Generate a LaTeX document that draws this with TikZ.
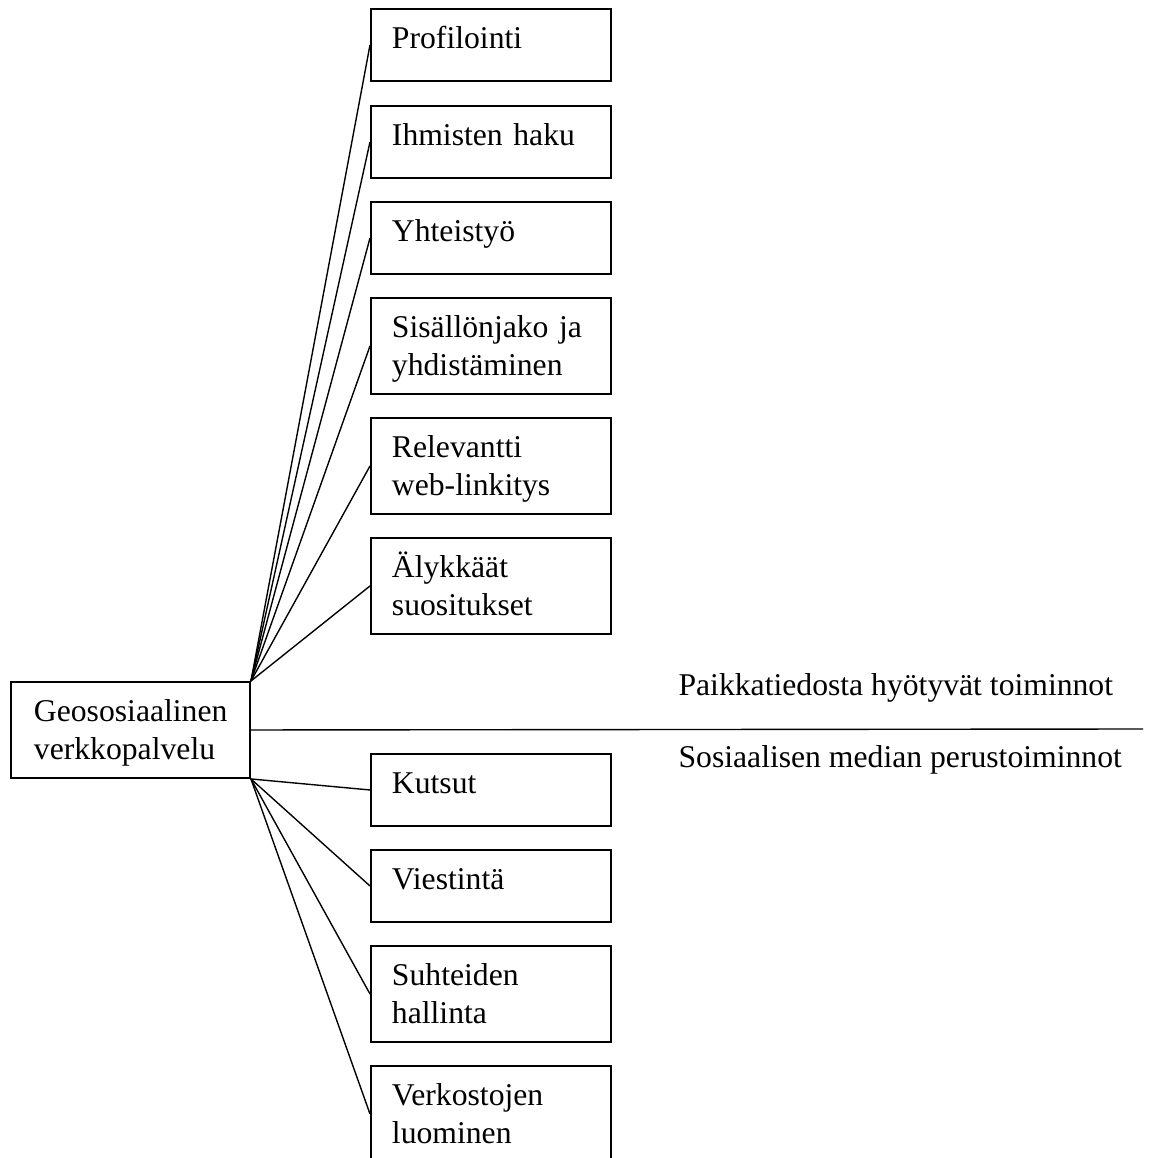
\documentclass[tikz,border=0pt]{standalone}
\usepackage{fontspec}
\setmainfont{Liberation Serif}
\begin{document}
\begin{tikzpicture}[x=0.36pt,y=-0.36pt,font=\fontsize{11.4}{13.68}\selectfont,
    box/.style={draw,line width=.7pt,anchor=north west,text width=71.28pt,align=left,
      inner xsep=7.56pt,inner ysep=0pt,text height=14.4pt,text depth=11.52pt},
    tallbox/.style={box,text depth=20.16pt},
    link/.style={line width=.5pt}]
  \useasboundingbox (0,0) rectangle (1149,1158);

  \node[tallbox,text width=69.48pt,inner xsep=8.28pt] (palvelu) at (10,681) {Geososiaalinen\\verkkopalvelu};

  \node[box] (profilointi) at (370,8) {Profilointi};
  \node[box] (haku) at (370,105) {Ihmisten haku};
  \node[box] (yhteistyo) at (370,201) {Yhteistyö};
  \node[tallbox] (jako) at (370,297) {\mbox{Sisällönjako ja}\\yhdistäminen};
  \node[tallbox] (linkitys) at (370,417) {Relevantti\\web-linkitys};
  \node[tallbox] (suositukset) at (370,537) {Älykkäät\\suositukset};

  \node[box] (kutsut) at (370,753) {Kutsut};
  \node[box] (viestinta) at (370,849) {Viestintä};
  \node[tallbox] (suhteet) at (370,945) {Suhteiden\\hallinta};
  \node[tallbox] (verkostot) at (370,1065) {Verkostojen\\luominen};

  \node[anchor=base west,inner sep=0pt] (paikka) at (678,695) {Paikkatiedosta hyötyvät toiminnot};
  \node[anchor=base west,inner sep=0pt] (perus) at (678,767) {Sosiaalisen median perustoiminnot};
  \coordinate (raja) at (1143,729);

  \draw[link] (palvelu.north east) -- (profilointi.west);
  \draw[link] (palvelu.north east) -- (haku.west);
  \draw[link] (palvelu.north east) -- (yhteistyo.west);
  \draw[link] (palvelu.north east) -- (jako.west);
  \draw[link] (palvelu.north east) -- (linkitys.west);
  \draw[link] (palvelu.north east) -- (suositukset.west);
  \draw[link] (palvelu.east) -- (raja);
  \draw[link] (palvelu.south east) -- (kutsut.west);
  \draw[link] (palvelu.south east) -- (viestinta.west);
  \draw[link] (palvelu.south east) -- (suhteet.west);
  \draw[link] (palvelu.south east) -- (verkostot.west);
\end{tikzpicture}
\end{document}
